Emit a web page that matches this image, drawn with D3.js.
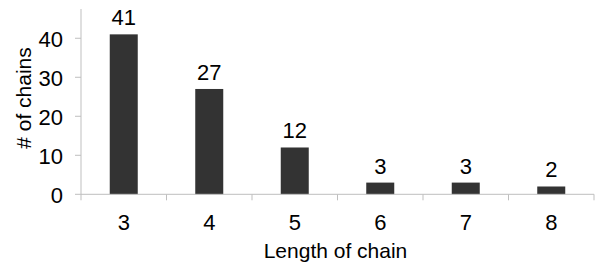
<!DOCTYPE html>
<html>
<head>
<meta charset="utf-8">
<script src="https://cdn.jsdelivr.net/npm/d3@7/dist/d3.min.js"></script>
<style>
    body { margin: 0; background: #fff; }
    svg text { font-family: "Liberation Sans", Arial, sans-serif; fill: #000; }
</style>
</head>
<body>
<div id="chart"></div>
<script>
// Chart data
const lengths = ['3', '4', '5', '6', '7', '8'];
const chainCounts = [41, 27, 12, 3, 3, 2];
const yTicks = [0, 10, 20, 30, 40];

const width = 596;
const height = 262;
const axisColor = '#bfbfbf';
const numSize = 22;
const titleSize = 21;

const svg = d3.select('#chart').append('svg')
    .attr('width', width)
    .attr('height', height);

// Scales
const pad = 0.6725;
const x = d3.scaleBand()
    .domain(lengths)
    .range([81, 594])
    .paddingInner(pad)
    .paddingOuter(pad / 2);

const y = d3.scaleLinear()
    .domain([0, 47.5])
    .range([194.3, 9]);

// Bars
svg.selectAll('.bar')
    .data(chainCounts)
    .enter().append('rect')
    .attr('class', 'bar')
    .attr('x', (d, i) => x(lengths[i]))
    .attr('y', d => y(d))
    .attr('width', x.bandwidth())
    .attr('height', d => y(0) - y(d))
    .attr('fill', '#333333');

// Value labels
svg.selectAll('.value')
    .data(chainCounts)
    .enter().append('text')
    .attr('class', 'value')
    .attr('x', (d, i) => x(lengths[i]) + x.bandwidth() / 2)
    .attr('y', d => y(d) - 9)
    .attr('text-anchor', 'middle')
    .attr('font-size', numSize)
    .text(d => d);

// Y axis line and ticks
svg.append('line')
    .attr('x1', 81).attr('x2', 81)
    .attr('y1', y(47.5)).attr('y2', y(0))
    .attr('stroke', axisColor);

svg.selectAll('.ytick')
    .data(yTicks)
    .enter().append('line')
    .attr('x1', 75).attr('x2', 81)
    .attr('y1', d => y(d)).attr('y2', d => y(d))
    .attr('stroke', axisColor);

svg.selectAll('.ylabel')
    .data(yTicks)
    .enter().append('text')
    .attr('x', 63)
    .attr('y', d => y(d))
    .attr('dy', '0.4em')
    .attr('text-anchor', 'end')
    .attr('font-size', numSize)
    .text(d => d);

// X axis line and ticks at category boundaries
const [x0, x1] = x.range();
svg.append('line')
    .attr('x1', x0).attr('x2', x1)
    .attr('y1', y(0)).attr('y2', y(0))
    .attr('stroke', axisColor);

const bounds = d3.range(lengths.length + 1).map(i => x0 + i * x.step());
svg.selectAll('.xtick')
    .data(bounds)
    .enter().append('line')
    .attr('x1', d => d).attr('x2', d => d)
    .attr('y1', y(0)).attr('y2', y(0) + 6)
    .attr('stroke', axisColor);

svg.selectAll('.xlabel')
    .data(lengths)
    .enter().append('text')
    .attr('x', d => x(d) + x.bandwidth() / 2)
    .attr('y', 230)
    .attr('text-anchor', 'middle')
    .attr('font-size', numSize)
    .text(d => d);

// Axis titles
svg.append('text')
    .attr('x', (x0 + x1) / 2 - 2)
    .attr('y', 258)
    .attr('text-anchor', 'middle')
    .attr('font-size', titleSize)
    .text('Length of chain');

svg.append('text')
    .attr('transform', 'translate(31,98) rotate(-90)')
    .attr('text-anchor', 'middle')
    .attr('font-size', titleSize)
    .text('# of chains');
</script>
</body>
</html>
